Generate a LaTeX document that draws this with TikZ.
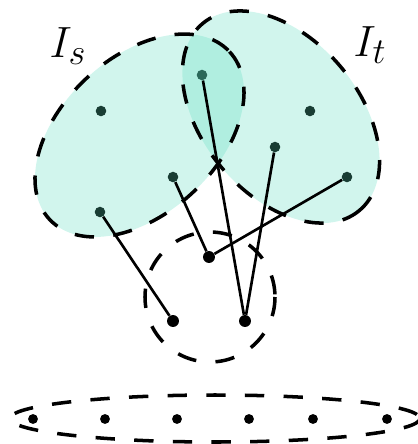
\documentclass[tikz,border=0pt]{standalone}
\usetikzlibrary{positioning}
\definecolor{setfill}{RGB}{90,220,190}
\begin{document}
\begin{tikzpicture}[x=0.02cm, y=-0.02cm,
    dot/.style={circle, fill=black, inner sep=0pt, minimum size=6pt},
    bigdot/.style={dot, minimum size=6.8pt},
    bnd/.style={dash pattern=on 11pt off 11pt, line width=2pt},
    edge/.style={line width=1.5pt},
    lbl/.style={font=\fontsize{29}{32}\selectfont}]
    \useasboundingbox (0,0) rectangle (417,444);

    % vertices of I_s and I_t
    \node[dot] (s1) at (101,111) {};
    \node[dot] (s2) at (100,212) {};
    \node[dot] (s3) at (173,177) {};
    \node[dot] (st) at (202,75) {};
    \node[dot] (t1) at (310,111) {};
    \node[dot] (t2) at (275,147) {};
    \node[dot] (t3) at (347,177) {};

    % the two sets, shaded over their vertices
    \fill[setfill, fill opacity=0.28, rotate around={43:(139.5,135.5)}]
        (139.5,135.5) ellipse [x radius=123, y radius=78];
    \fill[setfill, fill opacity=0.28, rotate around={-50:(281,117)}]
        (281,117) ellipse [x radius=122, y radius=78];

    % middle vertices
    \node[bigdot] (m1) at (209,257) {};
    \node[bigdot] (m2) at (173,321) {};
    \node[bigdot] (m3) at (245,321) {};

    % bottom row
    \foreach \x [count=\i] in {33,105,177,249,313,387} {
        \node[dot, minimum size=5.6pt] (b\i) at (\x,419) {};
    }

    \draw[edge] (s2) -- (m2);
    \draw[edge] (s3) -- (m1);
    \draw[edge] (t3) -- (m1);
    \draw[edge] (st) -- (m3);
    \draw[edge] (t2) -- (m3);

    % dashed boundaries
    \draw[bnd, rotate around={43:(139.5,135.5)}]
        (139.5,135.5) ellipse [x radius=123, y radius=78];
    \draw[bnd, rotate around={-50:(281,117)}]
        (281,117) ellipse [x radius=122, y radius=78];
    \draw[bnd] (210,297) ellipse [x radius=65, y radius=65];
    \draw[bnd] (215,418.5) ellipse [x radius=205, y radius=23.5];

    \node[lbl] (ls) at (68,46) {$I_s$};
    \node[lbl] (lt) at (370,45) {$I_t$};
\end{tikzpicture}
\end{document}
